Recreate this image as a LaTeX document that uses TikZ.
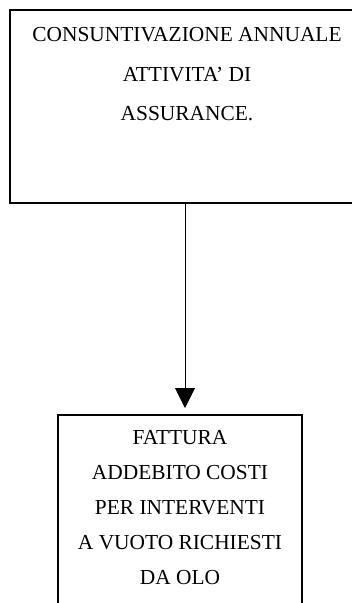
\documentclass[tikz,border=0pt]{standalone}
\usepackage{fontspec}
\setmainfont{Liberation Serif}
\usetikzlibrary{arrows.meta}

\tikzset{
  frame/.style={draw, inner sep=0pt, outer sep=0pt, anchor=north west},
  words/.style={align=center, inner sep=0pt, anchor=north, font=\fontsize{21.4}{#1}\selectfont}
}

\begin{document}
\begin{tikzpicture}[x=1pt,y=-1pt]
  \path [use as bounding box, clip] (0,0) rectangle (352,603);
  \node [frame, line width=2pt, minimum width=350pt, minimum height=193pt] (consbox) at (10,10) {};
  \node [frame, line width=1.5pt, minimum width=244pt, minimum height=215pt] (fattbox) at (58,415) {};
  \node [words=39.5] (constext) at (187,27.5) {CONSUNTIVAZIONE ANNUALE\\ATTIVITA’ DI\\ASSURANCE.};
  \node [words=35] (fatttext) at (180,430) {FATTURA\\ADDEBITO COSTI\\PER INTERVENTI\\A VUOTO RICHIESTI\\DA OLO};
  \draw [line width=1pt, -{Triangle[length=20pt,width=20pt]}, shorten >=7pt] (consbox.south) -- (consbox.south |- fattbox.north);
\end{tikzpicture}
\end{document}
